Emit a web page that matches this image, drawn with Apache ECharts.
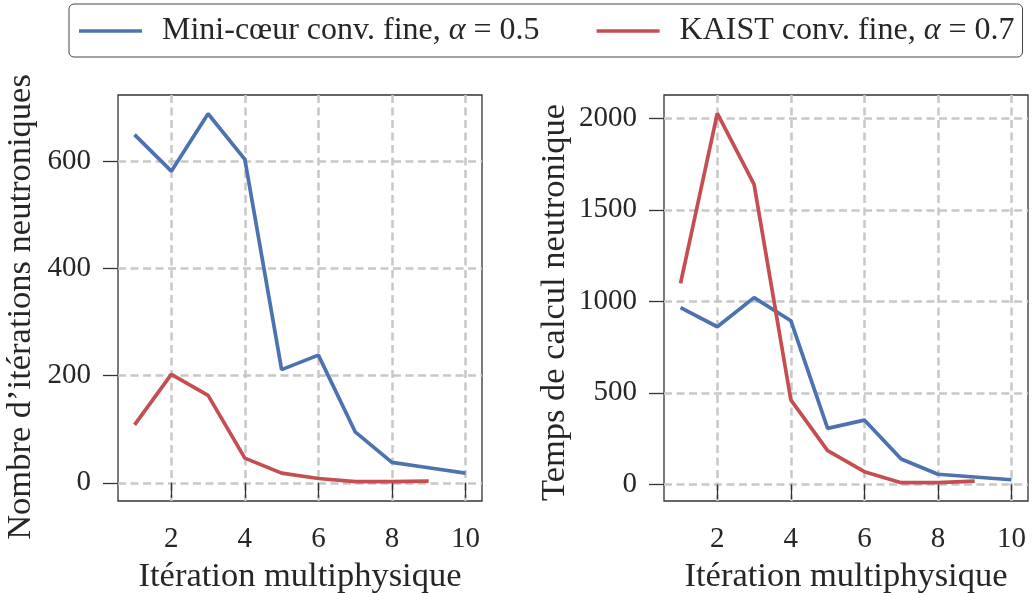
<!DOCTYPE html>
<html>
<head>
<meta charset="utf-8">
<script src="https://cdn.jsdelivr.net/npm/echarts@6/dist/echarts.min.js"></script>
<style>
  html, body { margin: 0; padding: 0; background: #fff; }
  #chart { width: 1035px; height: 593px; }
</style>
</head>
<body>
<div id="chart"></div>
<script>
// itérations multiphysiques
var iterations = [1, 2, 3, 4, 5, 6, 7, 8, 9, 10];
var kaistIterations = [1, 2, 3, 4, 5, 6, 7, 8, 9];

// nombre d'itérations neutroniques
var miniCoeurNbIter = [649, 581, 688, 603, 211, 238, 95, 38, 28, 18];
var kaistNbIter = [108, 202, 163, 46, 18, 8, 2, 2, 3];

// temps de calcul neutronique
var miniCoeurTemps = [965, 861, 1020, 894, 306, 351, 138, 55, 40, 25];
var kaistTemps = [1098, 2027, 1639, 461, 184, 69, 9, 9, 18];

var xTicks = [2, 4, 6, 8, 10];
var yTicksLeft = [0, 200, 400, 600];
var yTicksRight = [0, 500, 1000, 1500, 2000];

var nameMini = 'Mini-cœur conv. fine, α = 0.5';
var nameKaist = 'KAIST conv. fine, α = 0.7';
// libellés de légende avec alpha en italique
var legendRich = {};
legendRich[nameMini] = '{t|Mini-cœur conv. fine, }{i|α}{t| = 0.5}';
legendRich[nameKaist] = '{t|KAIST conv. fine, }{i|α}{t| = 0.7}';

var BLUE = '#4c72b0';
var RED = '#c44e52';
var FONT = 'Liberation Serif';
var TXT = '#262626';
var FS_TICK = 29;
var FS_NAME = 34.5;
var FS_LEG = 32;

function pairs(xs, ys) {
    return xs.map(function (x, i) { return [x, ys[i]]; });
}

var grille = { show: true, lineStyle: { color: '#c8c8c8', width: 2.5, type: [8, 4.5] } };

function xAxisFor(idx) {
    return {
        type: 'value',
        gridIndex: idx,
        min: 0.55,
        max: 10.45,
        name: 'Itération multiphysique',
        nameLocation: 'middle',
        nameGap: 58,
        nameTextStyle: { fontFamily: FONT, fontSize: FS_NAME, color: TXT },
        axisLine: { show: false },
        axisTick: { show: true, length: 15, customValues: xTicks, lineStyle: { color: '#333', width: 1.3 } },
        axisLabel: { customValues: xTicks, margin: 24, fontFamily: FONT, fontSize: FS_TICK, color: TXT },
        splitLine: grille
    };
}

function yAxisFor(idx, min, max, ticks, name, gap, shift) {
    return {
        type: 'value',
        gridIndex: idx,
        min: min,
        max: max,
        name: name,
        nameLocation: 'middle',
        nameGap: gap,
        nameTextStyle: { fontFamily: FONT, fontSize: FS_NAME, color: TXT, padding: [0, shift, 0, 0] },
        axisLine: { show: false },
        axisTick: { show: true, length: 15, customValues: ticks, lineStyle: { color: '#333', width: 1.3 } },
        axisLabel: {
            customValues: ticks, margin: 27, fontFamily: FONT, fontSize: FS_TICK, color: TXT,
            formatter: function (v) { return String(v); }
        },
        splitLine: grille
    };
}

function lineSeries(name, color, xi, yi, data) {
    return {
        name: name,
        type: 'line',
        xAxisIndex: xi,
        yAxisIndex: yi,
        data: data,
        symbol: 'none',
        lineStyle: { color: color, width: 3.7 },
        itemStyle: { color: color },
        animation: false
    };
}

var chart = echarts.init(document.getElementById('chart'), null, { renderer: 'canvas' });
chart.setOption({
    backgroundColor: '#ffffff',
    animation: false,
    legend: {
        left: 69,
        top: 4,
        padding: [11, 8, 10, 10],
        borderColor: '#444',
        borderWidth: 1,
        borderRadius: 5,
        itemGap: 57,
        itemWidth: 63,
        itemHeight: 3.7,
        icon: 'rect',
        formatter: function (n) { return legendRich[n]; },
        textStyle: {
            fontFamily: FONT, fontSize: FS_LEG, color: TXT, padding: [0, 0, 0, 15],
            rich: {
                t: { fontFamily: FONT, fontSize: FS_LEG, color: TXT },
                i: { fontFamily: FONT, fontSize: FS_LEG, color: TXT, fontStyle: 'italic' }
            }
        },
        data: [nameMini, nameKaist]
    },
    grid: [
        { left: 118, top: 95, width: 364, height: 406, outerBoundsMode: 'none', containLabel: false, show: true, borderColor: '#333', borderWidth: 1.3, backgroundColor: 'transparent' },
        { left: 664, top: 95, width: 364, height: 406, outerBoundsMode: 'none', containLabel: false, show: true, borderColor: '#333', borderWidth: 1.3, backgroundColor: 'transparent' }
    ],
    xAxis: [xAxisFor(0), xAxisFor(1)],
    yAxis: [
        yAxisFor(0, -34, 723, yTicksLeft, 'Nombre d\u2019itérations neutroniques', 80, 18),
        yAxisFor(1, -91, 2127, yTicksRight, 'Temps de calcul neutronique', 92, 9)
    ],
    series: [
        lineSeries(nameMini, BLUE, 0, 0, pairs(iterations, miniCoeurNbIter)),
        lineSeries(nameKaist, RED, 0, 0, pairs(kaistIterations, kaistNbIter)),
        lineSeries(nameMini, BLUE, 1, 1, pairs(iterations, miniCoeurTemps)),
        lineSeries(nameKaist, RED, 1, 1, pairs(kaistIterations, kaistTemps))
    ]
});
</script>
</body>
</html>
